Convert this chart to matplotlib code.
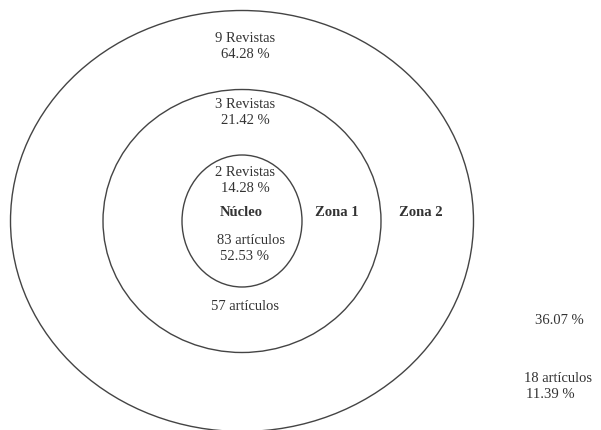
import matplotlib
matplotlib.use('Agg')
import matplotlib.pyplot as plt
from matplotlib.patches import Ellipse

# Zonas de Bradford
zonas = ['Núcleo', 'Zona 1', 'Zona 2']
revistas = [2, 3, 9]
pct_revistas = ['14.28 %', '21.42 %', '64.28 %']
articulos = [83, 57, 18]
pct_articulos = ['52.53 %', '36.07 %', '11.39 %']

line_col = '#444444'
text_col = '#333333'
serif = ['Liberation Serif', 'DejaVu Serif']

fig = plt.figure(figsize=(6.01, 4.30), dpi=100)
ax = fig.add_axes([0, 0, 1, 1])
ax.set_xlim(0, 601)
ax.set_ylim(430, 0)
ax.axis('off')

# elipses concéntricas (centro, ancho, alto)
cx, cy = 242, 221
sizes = [(120, 132), (278, 263), (463, 421)]
for w, h in sizes:
    ax.add_patch(Ellipse((cx, cy), w, h, fill=False, edgecolor=line_col, linewidth=1.0))

kw = dict(family=serif, fontsize=10.5, color=text_col, ha='center', va='center')

# revistas por zona
rev_y = [173, 105, 38]
for n, p, y in zip(revistas, pct_revistas, rev_y):
    ax.text(245, y, f'{n} Revistas', **kw)
    ax.text(245, y + 16, p, **kw)

# nombres de las zonas
name_x = [241, 337, 421]
for name, x in zip(zonas, name_x):
    ax.text(x, 213, name, fontweight='bold', **kw)

# artículos
ax.text(251, 240, f'{articulos[0]} artículos', **kw)
ax.text(245, 257, pct_articulos[0], **kw)
ax.text(245, 307, f'{articulos[1]} artículos', **kw)
ax.text(559, 320, pct_articulos[1], **kw)
ax.text(558, 378, f'{articulos[2]} artículos', **kw)
ax.text(550, 394, pct_articulos[2], **kw)

plt.savefig('out.png', dpi=100)
